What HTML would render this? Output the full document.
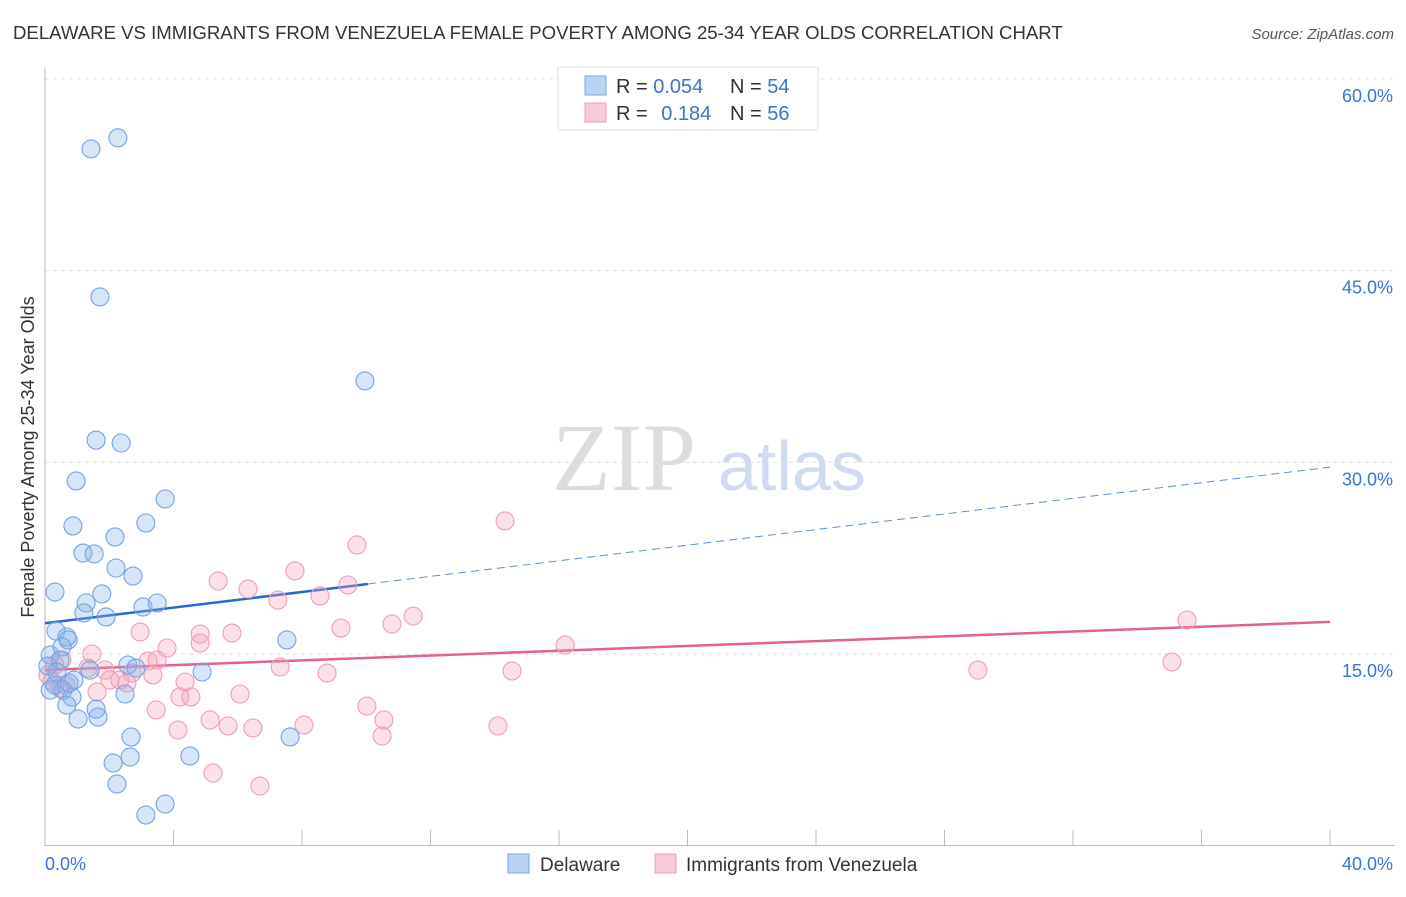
<!DOCTYPE html>
<html><head><meta charset="utf-8">
<style>
body{margin:0;background:#fff;width:1406px;height:892px;overflow:hidden;font-family:"Liberation Sans",sans-serif;}
</style></head>
<body>
<svg id="chart" width="1406" height="892" xmlns="http://www.w3.org/2000/svg" font-family="Liberation Sans, sans-serif">
<text x="13" y="39" font-size="18.6" fill="#333">DELAWARE VS IMMIGRANTS FROM VENEZUELA FEMALE POVERTY AMONG 25-34 YEAR OLDS CORRELATION CHART</text>
<text x="1394" y="39" font-size="15" fill="#555" font-style="italic" text-anchor="end">Source: ZipAtlas.com</text>
<text x="552" y="490" font-size="96" fill="#ddd" font-family="Liberation Serif, serif">ZIP</text>
<text x="718" y="490" font-size="70" fill="#cfdcf0">atlas</text>
<g id="grid"></g>
<g id="axes"></g>
<g id="trends"></g>
<g id="points"></g>
<text transform="translate(34,457) rotate(-90)" font-size="18" fill="#333" text-anchor="middle">Female Poverty Among 25-34 Year Olds</text>
<g>
<rect x="558" y="67" width="260" height="63" fill="#fff" stroke="#ddd"/>
<rect x="585" y="76" width="21" height="19" fill="#b8d3f3" stroke="#7aa8e0"/>
<text x="616" y="93" font-size="20" fill="#333">R = <tspan fill="#3a74d0">0.054</tspan></text>
<text x="730" y="93" font-size="20" fill="#333">N = <tspan fill="#3a74d0">54</tspan></text>
<rect x="585" y="103" width="21" height="19" fill="#f8cad8" stroke="#eaa0b8"/>
<text x="616" y="120" font-size="20" fill="#333">R = <tspan fill="#3a74d0" dx="8">0.184</tspan></text>
<text x="730" y="120" font-size="20" fill="#333">N = <tspan fill="#3a74d0">56</tspan></text>
</g>
<g>
<rect x="508" y="854" width="21" height="19" fill="#b8d3f3" stroke="#7aa8e0"/>
<text x="540" y="871" font-size="19" fill="#333">Delaware</text>
<rect x="655" y="854" width="21" height="19" fill="#f8cad8" stroke="#eaa0b8"/>
<text x="686" y="871" font-size="19" fill="#333">Immigrants from Venezuela</text>
</g>
</svg>
<script>
const xTicks=[0,40];
const xTickLabels=["0.0%","40.0%"];
const yTicks=[15,30,45,60];
const yTickLabels=["15.0%","30.0%","45.0%","60.0%"];
const delawareX=[1.43,2.27,1.71,9.96,1.59,2.37,0.97,3.74,0.87,3.14,2.18,1.18,1.53,2.21,2.74,0.31,1.77,1.28,3.05,3.49,1.21,1.90,0.34,0.68,0.72,7.53,0.16,0.53,0.47,0.09,0.37,1.40,2.58,2.83,4.89,0.31,0.90,0.56,0.16,0.84,2.49,0.68,1.03,1.59,1.65,2.68,7.63,4.51,2.12,2.65,2.24,3.74,3.14,0.75];
const delawareY=[54.52,55.39,42.94,36.37,31.74,31.51,28.54,27.13,25.02,25.25,24.16,22.9,22.83,21.73,21.1,19.85,19.7,18.99,18.68,18.99,18.21,17.9,16.8,16.33,16.1,16.1,14.92,15.55,14.53,14.06,13.59,13.74,14.14,13.9,13.59,12.57,12.96,12.18,12.18,11.63,11.87,11.0,9.91,10.69,10.07,8.51,8.51,7.02,6.47,6.94,4.83,3.26,2.40,12.73];
const venezX=[14.32,9.71,5.39,7.78,6.32,9.43,7.25,8.56,11.46,10.80,35.55,2.96,5.82,9.21,4.83,4.83,16.19,1.46,3.80,3.49,3.21,0.53,0.31,1.34,1.87,7.32,14.54,29.04,35.08,2.71,2.33,2.02,2.55,3.36,8.78,4.36,0.09,0.22,0.47,0.65,1.62,6.07,4.20,4.54,3.46,5.14,5.70,6.47,8.06,10.55,14.10,10.02,4.14,10.49,5.23,6.69];
const venezY=[25.41,23.53,20.71,21.5,20.09,20.4,19.22,19.54,17.97,17.35,17.66,16.72,16.64,17.03,16.56,15.86,15.7,15.0,15.47,14.53,14.45,14.53,14.14,13.9,13.74,13.98,13.67,13.74,14.37,13.52,12.97,12.97,12.73,13.36,13.51,12.81,13.36,12.89,12.34,12.58,12.03,11.87,11.64,11.64,10.62,9.84,9.37,9.21,9.44,9.84,9.37,10.93,9.05,8.58,5.69,4.67];
const delawareTrend=[17.41,29.62];
const delawareSolidEnd=10.05;
const venezTrend=[13.75,17.51];

const NS="http://www.w3.org/2000/svg";
const X0=45,X1=1330,Y0=845.7,PXY=12.78;
function sx(v){return X0+(X1-X0)*v/40;}
function sy(v){return Y0-v*PXY;}
function mk(tag,attrs,parent){const e=document.createElementNS(NS,tag);for(const k in attrs)e.setAttribute(k,attrs[k]);parent.appendChild(e);return e;}
const grid=document.getElementById('grid'),axes=document.getElementById('axes'),trends=document.getElementById('trends'),pts=document.getElementById('points');
yTicks.forEach((t,i)=>{
 const l=mk('line',{x1:45,x2:1395,y1:sy(t),y2:sy(t),stroke:'#ddd','stroke-dasharray':'4,4'},grid);
 
 
 const tx=mk('text',{x:1393,y:sy(t)+23,'font-size':18,fill:'#3a74d0','text-anchor':'end'},grid);
 tx.textContent=yTickLabels[i];
 
 
});
const ya=mk('line',{x1:45,x2:45,y1:68,y2:846,stroke:'#bbb'},axes);


const xa=mk('line',{x1:45,x2:1395,y1:845.5,y2:845.5,stroke:'#bbb'},axes);


for(let i=1;i<=10;i++){
 const t=mk('line',{x1:sx(i*4),x2:sx(i*4),y1:830,y2:846,stroke:'#bbb'},axes);
 
 
}
xTicks.forEach((t,i)=>{
 const tx=mk('text',{x:i==0?45:1393,y:870,'font-size':18,fill:'#3a74d0','text-anchor':i==0?'start':'end'},axes);
 tx.textContent=xTickLabels[i];
 
 
});
function dot(x,y,fill,stroke,name){
 const c=mk('circle',{cx:sx(x),cy:sy(y),r:9,fill:fill,stroke:stroke,'stroke-width':1.1},pts);
 
 
}
venezX.forEach((x,i)=>dot(x,venezY[i],'rgba(242,160,186,0.33)','#ec9fb8','venezuela-point'));
delawareX.forEach((x,i)=>dot(x,delawareY[i],'rgba(130,175,235,0.33)','#74a3e2','delaware-point'));
const slope=(delawareTrend[1]-delawareTrend[0])/40;
const bs=mk('line',{x1:sx(0),y1:sy(delawareTrend[0]),x2:sx(delawareSolidEnd),y2:sy(delawareTrend[0]+slope*delawareSolidEnd),stroke:'#2468d4','stroke-width':2.5},trends);


const bd=mk('line',{x1:sx(delawareSolidEnd),y1:sy(delawareTrend[0]+slope*delawareSolidEnd),x2:sx(40),y2:sy(delawareTrend[1]),stroke:'#5a8fdd','stroke-width':1,'stroke-dasharray':'8,5'},trends);


const pl=mk('line',{x1:sx(0),y1:sy(venezTrend[0]),x2:sx(40),y2:sy(venezTrend[1]),stroke:'#e5608c','stroke-width':2.5},trends);


</script>
</body></html>
